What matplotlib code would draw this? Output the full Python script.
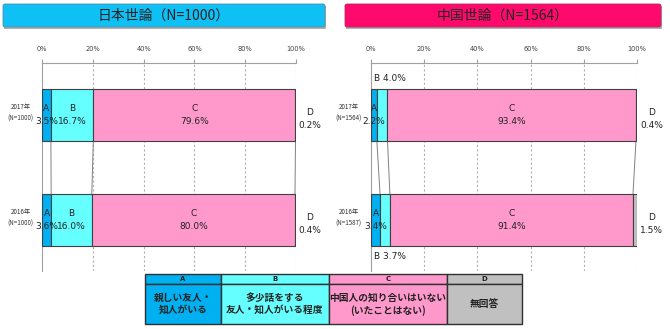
import matplotlib
matplotlib.use("Agg")
import matplotlib.pyplot as plt
from matplotlib.patches import Rectangle, FancyBboxPatch

plt.rcParams["font.family"] = ["Noto Sans CJK JP", "DejaVu Sans"]

# data
categories = ["A", "B", "C", "D"]
jp_years = ["2017年\n(N=1000)", "2016年\n(N=1000)"]
jp_values = [
    [3.5, 16.7, 79.6, 0.2],
    [3.6, 16.0, 80.0, 0.4],
]
cn_years = ["2017年\n(N=1564)", "2016年\n(N=1587)"]
cn_values = [
    [2.2, 4.0, 93.4, 0.4],
    [3.4, 3.7, 91.4, 1.5],
]
legend_texts = [
    "親しい友人・\n知人がいる",
    "多少話をする\n友人・知人がいる程度",
    "中国人の知り合いはいない\n(いたことはない)",
    "無回答",
]
ticks = [0, 20, 40, 60, 80, 100]
tick_labels = ["0%", "20%", "40%", "60%", "80%", "100%"]

colors = ["#00b0f0", "#66ffff", "#ff99cc", "#c0c0c0"]
W, H = 670, 329
BAR_H = 0.495


def px_ax(fig, x0, x1, y0, y1):
    return fig.add_axes([x0 / W, 1 - y1 / H, (x1 - x0) / W, (y1 - y0) / H])


def draw_panel(ax, years, values, outside_b=False):
    ax.set_xlim(0, 100)
    ax.set_ylim(1.486, -0.495)
    for i, row in enumerate(values):
        left = 0
        for j, v in enumerate(row):
            ax.barh(i, v, left=left, height=BAR_H, color=colors[j],
                    edgecolor="#404040", linewidth=0.8, zorder=3)
            left += v
    # series lines between the two bars
    for j in range(3):
        x0 = sum(values[0][: j + 1])
        x1 = sum(values[1][: j + 1])
        ax.plot([x0, x1], [BAR_H / 2, 1 - BAR_H / 2], color="#808080",
                lw=0.7, zorder=2)
    # labels
    for i, row in enumerate(values):
        left = 0
        for j, v in enumerate(row):
            c = left + v / 2
            left += v
            if j == 3:
                ax.text(105.5, i + 0.04, f"D\n{v:.1f}%", ha="center", va="center",
                        fontsize=6.5, color="#222222", linespacing=1.5,
                        family="DejaVu Sans", clip_on=False)
            elif j == 1 and outside_b:
                y = i - BAR_H / 2 - 0.06 if i == 0 else i + BAR_H / 2 + 0.06
                ax.text(1.2, y, f"B {v:.1f}%", ha="left",
                        va="bottom" if i == 0 else "top", fontsize=6.5,
                        color="#222222", family="DejaVu Sans", zorder=5)
            else:
                ax.text(c, i, f"{categories[j]}\n{v:.1f}%", ha="center", va="center",
                        fontsize=6.5, color="#222222", linespacing=1.5,
                        family="DejaVu Sans", zorder=5)
        ax.text(-8.3, i - 0.02, years[i], ha="center", va="center", fontsize=4.5,
                color="#333333", linespacing=1.5, clip_on=False)
    ax.xaxis.tick_top()
    ax.set_xticks(ticks)
    ax.set_xticklabels(tick_labels, fontsize=4.8, color="#404040",
                       family="DejaVu Sans")
    ax.tick_params(axis="x", length=3, color="#a0a0a0", pad=5)
    ax.set_yticks([])
    for t in ticks[1:]:
        ax.axvline(t, color="#b0b0b0", lw=0.8, ls=(0, (2, 2)), zorder=1)
    for s in ["right", "bottom"]:
        ax.spines[s].set_visible(False)
    for s in ["left", "top"]:
        ax.spines[s].set_color("#a0a0a0")
        ax.spines[s].set_linewidth(0.8)


fig = plt.figure(figsize=(6.7, 3.29), dpi=100)

ax1 = px_ax(fig, 42, 296, 63, 271)
draw_panel(ax1, jp_years, jp_values)
ax2 = px_ax(fig, 371, 637, 63, 271)
draw_panel(ax2, cn_years, cn_values, outside_b=True)

# overlay for titles and the legend table
ov = fig.add_axes([0, 0, 1, 1], zorder=-1)
ov.set_xlim(0, W)
ov.set_ylim(H, 0)
ov.axis("off")

ov2 = fig.add_axes([0, 0, 1, 1], zorder=10)
ov2.set_xlim(0, W)
ov2.set_ylim(H, 0)
ov2.axis("off")

for (x0, x1, fc, title) in [(3, 325, "#0fc0f5", "日本世論（N=1000）"),
                            (345, 661, "#ff0a6c", "中国世論（N=1564）")]:
    ov.add_patch(Rectangle((x0 + 1, 6), x1 - x0, 23, facecolor="#b0b0b0",
                           edgecolor="none"))
    ov.add_patch(FancyBboxPatch((x0, 4), x1 - x0, 23,
                                boxstyle="round,pad=0,rounding_size=2",
                                facecolor=fc, edgecolor="#5a8aa0" if x0 < 100 else "#b0305a",
                                lw=0.6))
    ov.text((x0 + x1) / 2, 16, title, ha="center", va="center", fontsize=10,
            color="#222222")

col_x = [145, 221, 329, 447, 522]
for j in range(4):
    x0, x1 = col_x[j], col_x[j + 1]
    ov2.add_patch(Rectangle((x0, 274), x1 - x0, 10, facecolor=colors[j],
                            edgecolor="#303030", lw=1))
    ov2.add_patch(Rectangle((x0, 284), x1 - x0, 40, facecolor=colors[j],
                            edgecolor="#303030", lw=1))
    ov2.text((x0 + x1) / 2, 279.3, categories[j], ha="center", va="center",
             fontsize=5, weight="bold", color="#222222", family="DejaVu Sans")
    ov2.text((x0 + x1) / 2, 304, legend_texts[j], ha="center", va="center",
             fontsize=7, weight="bold", color="#222222", linespacing=1.3)

fig.savefig("out.png", dpi=100)
